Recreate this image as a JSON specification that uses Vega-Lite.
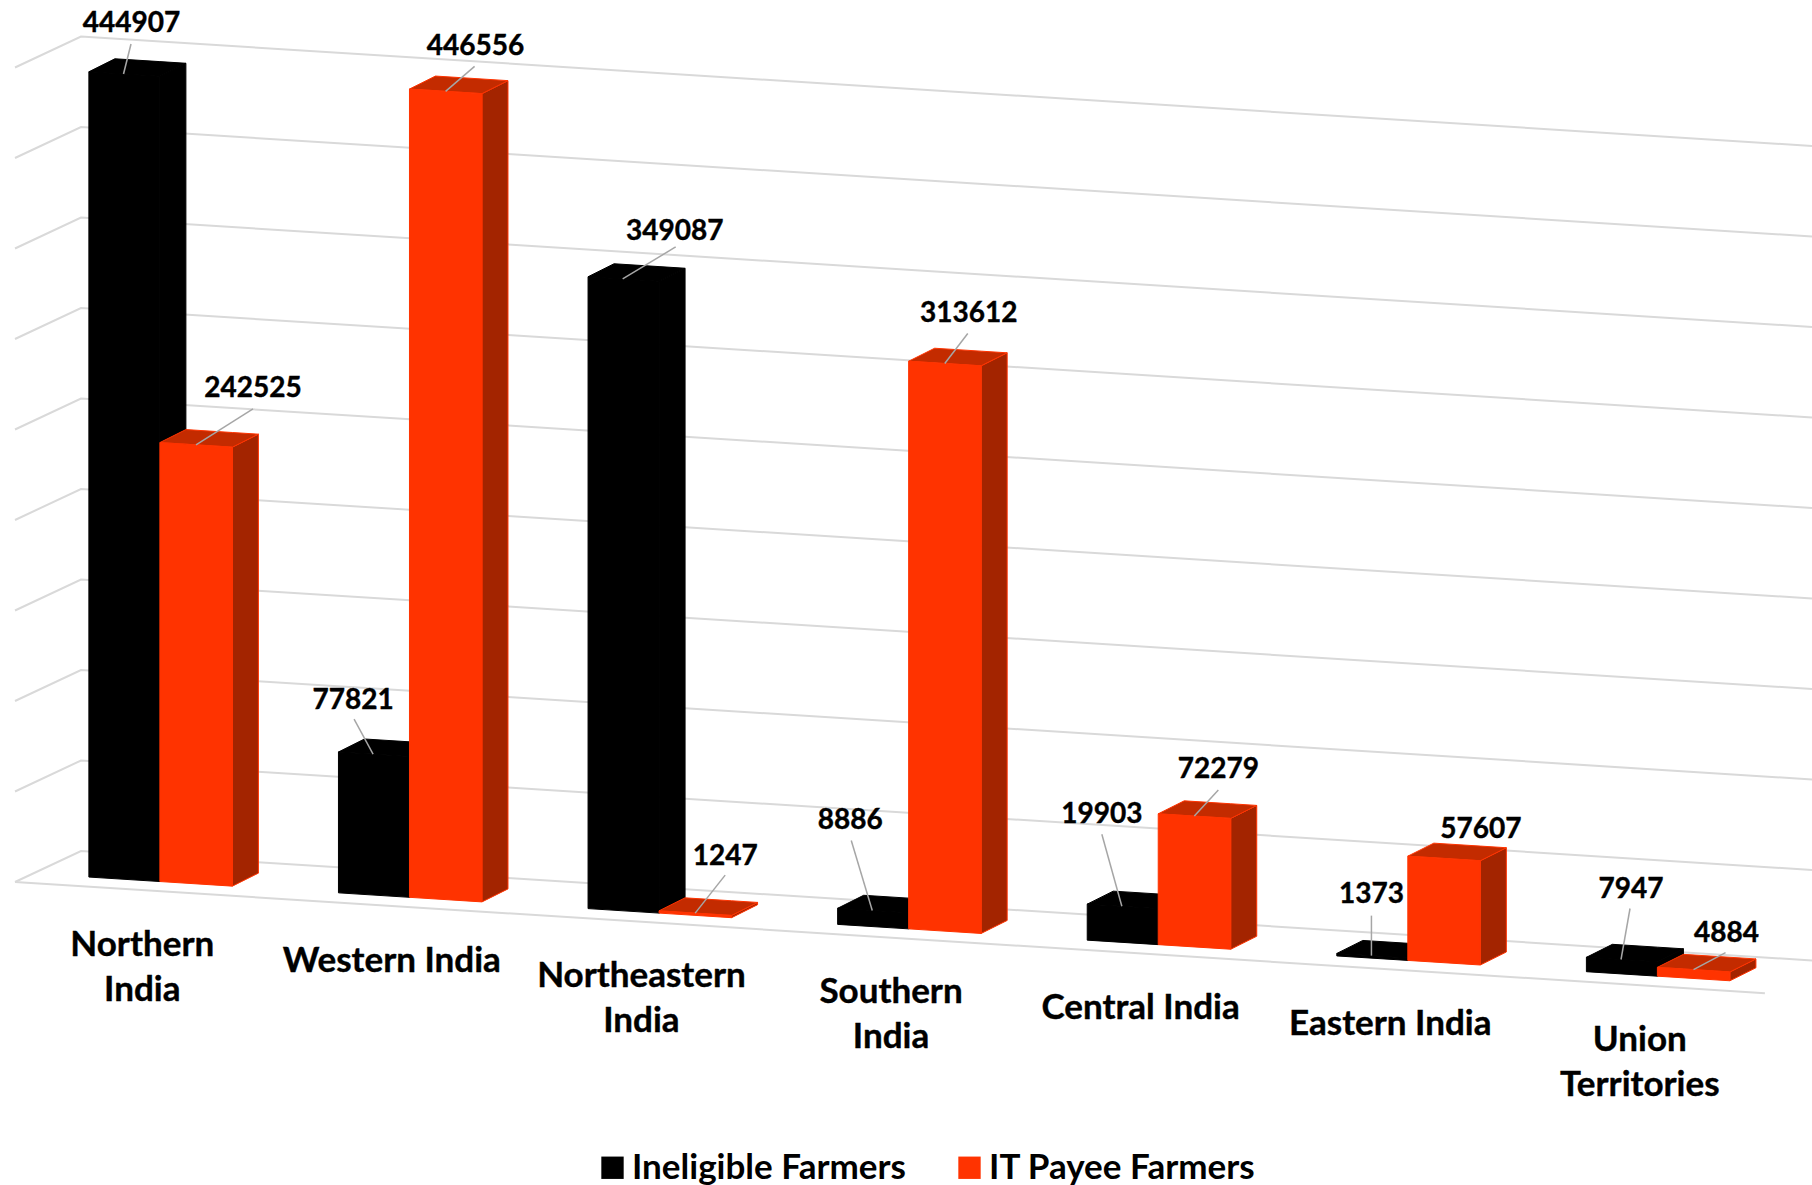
{
"$schema":"https://vega.github.io/schema/vega-lite/v6.json",
"width":1812,"height":1185,"padding":0,"autosize":{"type":"none"},
"background":"white",
"config":{"view":{"stroke":null}},
"datasets":{
"bars":[
{"region":"Northern India","order":0,"series":"Ineligible Farmers","value":444907},
{"region":"Western India","order":1,"series":"Ineligible Farmers","value":77821},
{"region":"Northeastern India","order":2,"series":"Ineligible Farmers","value":349087},
{"region":"Southern India","order":3,"series":"Ineligible Farmers","value":8886},
{"region":"Central India","order":4,"series":"Ineligible Farmers","value":19903},
{"region":"Eastern India","order":5,"series":"Ineligible Farmers","value":1373},
{"region":"Union Territories","order":6,"series":"Ineligible Farmers","value":7947},
{"region":"Northern India","order":0,"series":"IT Payee Farmers","value":242525},
{"region":"Western India","order":1,"series":"IT Payee Farmers","value":446556},
{"region":"Northeastern India","order":2,"series":"IT Payee Farmers","value":1247},
{"region":"Southern India","order":3,"series":"IT Payee Farmers","value":313612},
{"region":"Central India","order":4,"series":"IT Payee Farmers","value":72279},
{"region":"Eastern India","order":5,"series":"IT Payee Farmers","value":57607},
{"region":"Union Territories","order":6,"series":"IT Payee Farmers","value":4884}
],
"levels":[{"level":0},{"level":50000},{"level":100000},{"level":150000},{"level":200000},{"level":250000},{"level":300000},{"level":350000},{"level":400000},{"level":450000}]
},
"layer":[
{"data":{"name":"levels"},
 "transform":[
  {"calculate":"[0.0601,0.3245,7.26]","as":"gx"},{"flatten":["gx"]},
  {"calculate":"datum.gx<0.1?datum.level+167403:datum.level+187358-8715*datum.gx","as":"gy"}],
 "mark":{"type":"line","color":"#D9D9D9","strokeWidth":2},
 "encoding":{
  "x":{"field":"gx","type":"quantitative","axis":null,"scale":{"domain":[0,7.26]}},
  "y":{"field":"gy","type":"quantitative","axis":null,"scale":{"domain":[0,654696]}},
  "detail":{"field":"level"}}},
{"data":{"name":"levels"},
 "transform":[
  {"filter":"datum.level==0"},
  {"calculate":"[0.0601,7.0713]","as":"gx"},{"flatten":["gx"]},
  {"calculate":"167403-8760*(datum.gx-0.0601)","as":"gy"}],
 "mark":{"type":"line","color":"#D9D9D9","strokeWidth":2},
 "encoding":{
  "x":{"field":"gx","type":"quantitative","axis":null,"scale":{"domain":[0,7.26]}},
  "y":{"field":"gy","type":"quantitative","axis":null,"scale":{"domain":[0,654696]}}}},
{"data":{"name":"bars"},
 "transform":[
  {"calculate":"datum.order+0.3561+(datum.series=='IT Payee Farmers'?0.2845:0)","as":"xl"},
  {"calculate":"datum.xl+(datum.series=='IT Payee Farmers'?0.2905:0.2845)","as":"xr"},
  {"calculate":"['side','top','front']","as":"face"},{"flatten":["face"]},
  {"calculate":"datum.face=='front'?[datum.xl,datum.xr]:datum.face=='side'?[datum.xr,datum.xr+0.1042]:[datum.xl,datum.xl+0.1042,datum.xr,datum.xr+0.1042]","as":"px"},{"flatten":["px"]},
  {"calculate":"datum.face=='front'?datum.value+173239-8715*datum.px:datum.face=='side'?(datum.px==datum.xr?datum.value+173239-8715*datum.px:datum.value+173239-8715*datum.xr+7182):(datum.px==datum.xl?datum.value+173239-8715*datum.px:datum.value+173239-8715*(datum.px-0.1042)+7182)","as":"upper"},
  {"calculate":"datum.face=='front'?173239-8715*datum.px:datum.face=='side'?(datum.px==datum.xr?173239-8715*datum.px:173239-8715*datum.xr+7182):(datum.px==datum.xr+0.1042?datum.value+173239-8715*datum.xr+7182:datum.value+173239-8715*datum.px)","as":"lower"},
  {"calculate":"datum.face=='front'?datum.series:datum.series+' '+datum.face","as":"shade"},
  {"calculate":"datum.region+' '+datum.series+' '+datum.face","as":"faceId"}],
 "mark":{"type":"area","orient":"vertical","strokeWidth":1},
 "encoding":{
  "x":{"field":"px","type":"quantitative","axis":null,"scale":{"domain":[0,7.26]}},
  "y":{"field":"upper","type":"quantitative","axis":null,"scale":{"domain":[0,654696]}},
  "y2":{"field":"lower"},
  "detail":{"field":"faceId"},
  "color":{"field":"shade","type":"nominal",
   "scale":{"domain":["Ineligible Farmers","IT Payee Farmers","Ineligible Farmers side","Ineligible Farmers top","IT Payee Farmers side","IT Payee Farmers top"],
            "range":["#000000","#FF3300","#000000","#000000","#A32400","#C32B00"]},
   "legend":{"values":["Ineligible Farmers","IT Payee Farmers"],"title":null,"orient":"none","legendX":595,"legendY":1150,"direction":"horizontal","symbolType":"square","symbolSize":500,"symbolStrokeWidth":0,"labelFont":"Lato","labelFontWeight":"bold","labelFontSize":35,"labelColor":"#000000","labelLimit":0,"columnPadding":46,"labelOffset":2}},
  "stroke":{"field":"series","type":"nominal","scale":{"domain":["Ineligible Farmers","IT Payee Farmers"],"range":["#000000","#FF3300"]},"legend":null}}},
{"data":{"name":"bars"},
 "transform":[
  {"filter":"datum.series=='Ineligible Farmers'"},
  {"calculate":"indexof(['Western India','Central India','Eastern India'],datum.region)>=0?datum.region:replace(datum.region,' ','|')","as":"labelText"},
  {"calculate":"datum.order+0.57","as":"lx"},
  {"calculate":"126550-8715*datum.order","as":"ly"}],
 "mark":{"type":"text","font":"Lato","fontWeight":"bold","fontSize":35,"lineBreak":"|","lineHeight":45,"align":"center","baseline":"alphabetic","color":"#000000","stroke":"#000000","strokeWidth":0.4},
 "encoding":{
  "x":{"field":"lx","type":"quantitative","axis":null,"scale":{"domain":[0,7.26]}},
  "y":{"field":"ly","type":"quantitative","axis":null,"scale":{"domain":[0,654696]}},
  "text":{"field":"labelText","type":"nominal"}}},
{"data":{"name":"bars"},
 "transform":[
  {"filter":"datum.value!=57607"},
  {"calculate":"datum.order+(datum.series=='IT Payee Farmers'?0.7853:0.4948)","as":"ax"},
  {"calculate":"datum.value+173239-8715*datum.ax","as":"ay"},
  {"calculate":"({444907:[7.5,-30],242525:[57,-36],77821:[-19,-35],446556:[29,-25],349087:[53,-32],1247:[30,-38],8886:[-21,-70],313612:[23,-30],19903:[-20,-72],72279:[24,-26],1373:[0,-40],7947:[9,-51],4884:[32,-17]})[datum.value]","as":"tip"},
  {"calculate":"datum.ax+datum.tip[0]/249.6","as":"tx"},
  {"calculate":"datum.ay-datum.tip[1]*552.5","as":"ty"}],
 "mark":{"type":"rule","color":"#A6A6A6","strokeWidth":1.5},
 "encoding":{
  "x":{"field":"ax","type":"quantitative","axis":null,"scale":{"domain":[0,7.26]}},
  "x2":{"field":"tx"},
  "y":{"field":"ay","type":"quantitative","axis":null,"scale":{"domain":[0,654696]}},
  "y2":{"field":"ty"}}},
{"data":{"name":"bars"},
 "transform":[
  {"calculate":"datum.order+(datum.series=='IT Payee Farmers'?0.7853:0.4948)","as":"ax"},
  {"calculate":"datum.value+173239-8715*datum.ax","as":"ay"},
  {"calculate":"({444907:[8,-50],242525:[57,-56],77821:[-20,-53],446556:[30,-44],349087:[52,-47],1247:[30,-56],8886:[-22,-89],313612:[24,-50],19903:[-20,-91],72279:[24,-46],1373:[0,-61],57607:[37,-28],7947:[10,-70],4884:[33,-36]})[datum.value]","as":"off"},
  {"calculate":"datum.ax+datum.off[0]/249.6","as":"tx"},
  {"calculate":"datum.ay-datum.off[1]*552.5","as":"ty"}],
 "mark":{"type":"text","font":"Lato","fontWeight":"bold","fontSize":28,"align":"center","baseline":"middle","color":"#000000","stroke":"#000000","strokeWidth":0.4},
 "encoding":{
  "x":{"field":"tx","type":"quantitative","axis":null,"scale":{"domain":[0,7.26]}},
  "y":{"field":"ty","type":"quantitative","axis":null,"scale":{"domain":[0,654696]}},
  "text":{"field":"value","type":"quantitative","format":"d"}}}
]
}
